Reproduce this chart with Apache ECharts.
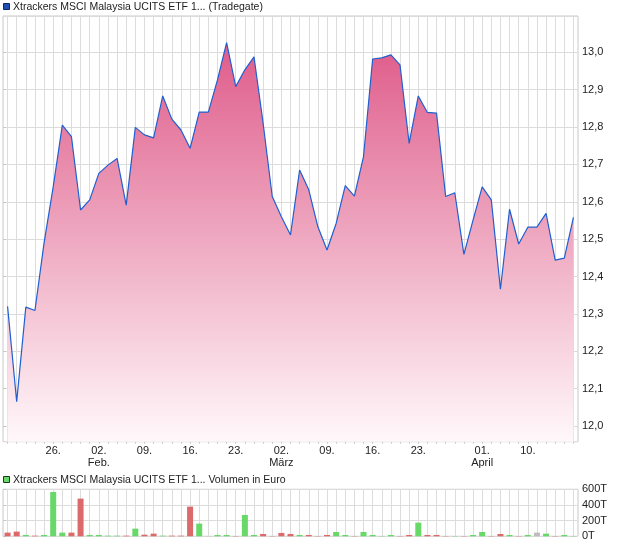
<!DOCTYPE html>
<html><head><meta charset="utf-8">
<script src="https://cdn.jsdelivr.net/npm/echarts@6/dist/echarts.min.js"></script>
<style>html,body{margin:0;padding:0;background:#fff}#c{width:620px;height:546px}</style>
</head><body><div id="c"></div>
<script>
// ---- data ----
const dates = [
 '2026-01-19','2026-01-20','2026-01-21','2026-01-22','2026-01-23',
 '2026-01-26','2026-01-27','2026-01-28','2026-01-29','2026-01-30',
 '2026-02-02','2026-02-03','2026-02-04','2026-02-05','2026-02-06',
 '2026-02-09','2026-02-10','2026-02-11','2026-02-12','2026-02-13',
 '2026-02-16','2026-02-17','2026-02-18','2026-02-19','2026-02-20',
 '2026-02-23','2026-02-24','2026-02-25','2026-02-26','2026-02-27',
 '2026-03-02','2026-03-03','2026-03-04','2026-03-05','2026-03-06',
 '2026-03-09','2026-03-10','2026-03-11','2026-03-12','2026-03-13',
 '2026-03-16','2026-03-17','2026-03-18','2026-03-19','2026-03-20',
 '2026-03-23','2026-03-24','2026-03-25','2026-03-26','2026-03-27',
 '2026-03-30','2026-03-31','2026-04-01','2026-04-02',
 '2026-04-07','2026-04-08','2026-04-09','2026-04-10',
 '2026-04-13','2026-04-14','2026-04-15','2026-04-16','2026-04-17'
];
const prices = [
 12.320,12.065,12.318,12.309,12.490,
 12.640,12.805,12.774,12.578,12.605,
 12.676,12.698,12.716,12.591,12.799,
 12.779,12.771,12.883,12.821,12.792,
 12.743,12.840,12.840,12.926,13.026,
 12.908,12.953,12.988,12.810,12.614,
 12.560,12.511,12.685,12.632,12.533,
 12.471,12.542,12.643,12.615,12.721,
 12.982,12.985,12.993,12.966,12.756,
 12.883,12.839,12.837,12.614,12.624,
 12.459,12.551,12.640,12.605,
 12.366,12.580,12.487,12.532,
 12.532,12.569,12.444,12.449,12.558
];
const volumes = [
 47000,60000,17000,8000,17000,
 566000,47000,47000,481000,17000,
 17000,8000,8000,8000,98000,
 21000,34000,8000,8000,8000,
 379000,162000,4000,17000,17000,
 4000,272000,17000,30000,4000,
 43000,30000,17000,17000,4000,
 17000,55000,17000,4000,55000,
 17000,4000,17000,4000,17000,
 174000,17000,17000,4000,4000,
 4000,17000,55000,4000,
 30000,17000,4000,17000,
 47000,34000,4000,17000,4000
];
// u = up day, d = down day, n = unchanged
const volumeTrend = [
 'd','d','u','d','u', 'u','u','d','d','u', 'u','u','u','d','u',
 'd','d','u','d','d', 'd','u','n','u','u', 'd','u','u','d','d',
 'd','d','u','d','d', 'd','u','u','d','u', 'u','u','u','d','d',
 'u','d','d','d','u', 'd','u','u','d', 'd','u','d','u', 'n','u','d','u','u'
];
const tickDates = ['2026-01-26','2026-02-02','2026-02-09','2026-02-16','2026-02-23',
 '2026-03-02','2026-03-09','2026-03-16','2026-03-23','2026-04-01','2026-04-10'];
const tickTexts = ['26.','02.\nFeb.','09.','16.','23.','02.\nMärz','09.','16.','23.','01.\nApril','10.'];
const priceTitle = 'Xtrackers MSCI Malaysia UCITS ETF 1... (Tradegate)';
const volumeTitle = 'Xtrackers MSCI Malaysia UCITS ETF 1... Volumen in Euro';

// ---- layout / style ----
const FONT = '"Liberation Sans", Arial, sans-serif';
const GRIDC = '#dcdcdc', BORDERC = '#c8c8c8', TXT = '#222';
const FL = 3, FW = 575;
const inset = FW / dates.length / 2;
const MT = 16, MH = 425.7;
const VT = 489.3, VH = 47;
const PMIN = 11.958, PMAX = 13.097;
const trendColor = {u: '#68d868', d: '#dc6a6a', n: '#bdbdbd'};

const chart = echarts.init(document.getElementById('c'), null, {renderer: 'canvas'});
const hiddenX = (g) => ({type: 'value', gridIndex: g, show: false, min: 0, max: 1});
const hiddenY = (g, mn, mx) => ({type: 'value', gridIndex: g, show: false, min: mn, max: mx, splitLine: {show: false}});

chart.setOption({
  animation: false,
  backgroundColor: '#fff',
  textStyle: {fontFamily: FONT},
  grid: [
    {left: FL, top: MT, width: FW, height: MH, show: true, borderColor: BORDERC, borderWidth: 1, backgroundColor: 'transparent'},
    {left: FL + inset, top: MT, width: FW - 2 * inset, height: MH},
    {left: FL, top: VT, width: FW, height: VH, show: true, borderColor: BORDERC, borderWidth: 1, backgroundColor: 'transparent'},
    {left: FL + inset, top: VT, width: FW - 2 * inset, height: VH}
  ],
  xAxis: [
    hiddenX(0),
    {type: 'category', gridIndex: 1, data: dates, boundaryGap: false,
     axisLine: {show: false},
     axisTick: {show: true, interval: 0, length: 2, lineStyle: {color: '#c8c8c8'}},
     splitLine: {show: true, interval: 0, lineStyle: {color: GRIDC, width: 1}},
     axisLabel: {interval: (i, v) => tickDates.indexOf(v) >= 0,
       formatter: (v) => { const k = tickDates.indexOf(v); return k >= 0 ? tickTexts[k] : ''; },
       color: TXT, fontSize: 11, lineHeight: 12, margin: 3, fontFamily: FONT}},
    hiddenX(2),
    {type: 'category', gridIndex: 3, data: dates, boundaryGap: false,
     axisLine: {show: false}, axisTick: {show: false}, axisLabel: {show: false},
     splitLine: {show: true, interval: 0, lineStyle: {color: GRIDC, width: 1}}}
  ],
  yAxis: [
    {type: 'value', gridIndex: 0, position: 'right', min: PMIN, max: PMAX,
     splitNumber: 11, minInterval: 0.1, maxInterval: 0.1,
     axisLine: {show: false},
     axisTick: {show: true, length: 3, lineStyle: {color: '#c8c8c8'}},
     splitLine: {show: true, lineStyle: {color: GRIDC, width: 1}},
     axisLabel: {showMinLabel: false, showMaxLabel: false, margin: 4, color: TXT, fontSize: 11, fontFamily: FONT,
       formatter: (v) => v.toFixed(1).replace('.', ',')}},
    hiddenY(1, PMIN, PMAX),
    {type: 'value', gridIndex: 2, position: 'right', min: 0, max: 600000, interval: 200000,
     axisLine: {show: false},
     axisTick: {show: true, length: 3, lineStyle: {color: '#c8c8c8'}},
     splitLine: {show: true, lineStyle: {color: GRIDC, width: 1}},
     axisLabel: {margin: 4, color: TXT, fontSize: 11, fontFamily: FONT,
       formatter: (v) => (v / 1000) + 'T'}},
    hiddenY(3, 0, 600000)
  ],
  series: [
    {type: 'line', xAxisIndex: 1, yAxisIndex: 1, data: prices, symbol: 'none', smooth: false,
     lineStyle: {color: '#1f5fcf', width: 1.2},
     areaStyle: {origin: 'start', opacity: 1,
       color: new echarts.graphic.LinearGradient(0, 0, 0, 1, [
         {offset: 0, color: '#df5c8a'}, {offset: 1, color: '#fff8fa'}])},
     z: 3},
    {type: 'bar', xAxisIndex: 3, yAxisIndex: 3, barWidth: 6, clip: false,
     data: volumes.map((v, i) => ({value: v, itemStyle: {color: trendColor[volumeTrend[i]]}})),
     z: 3}
  ],
  graphic: [
    {type: 'rect', shape: {x: 3.5, y: 3.5, width: 6, height: 6}, style: {fill: '#1f4fb0', stroke: '#0d2766', lineWidth: 1}},
    {type: 'text', x: 13, y: 7, style: {text: priceTitle, fontSize: 10.5, fontFamily: FONT, fill: TXT, verticalAlign: 'middle'}},
    {type: 'rect', shape: {x: 3.5, y: 476.5, width: 6, height: 6}, style: {fill: '#68d868', stroke: '#1e3a1e', lineWidth: 1}},
    {type: 'text', x: 13, y: 480, style: {text: volumeTitle, fontSize: 10.5, fontFamily: FONT, fill: TXT, verticalAlign: 'middle'}}
  ]
});
</script></body></html>
